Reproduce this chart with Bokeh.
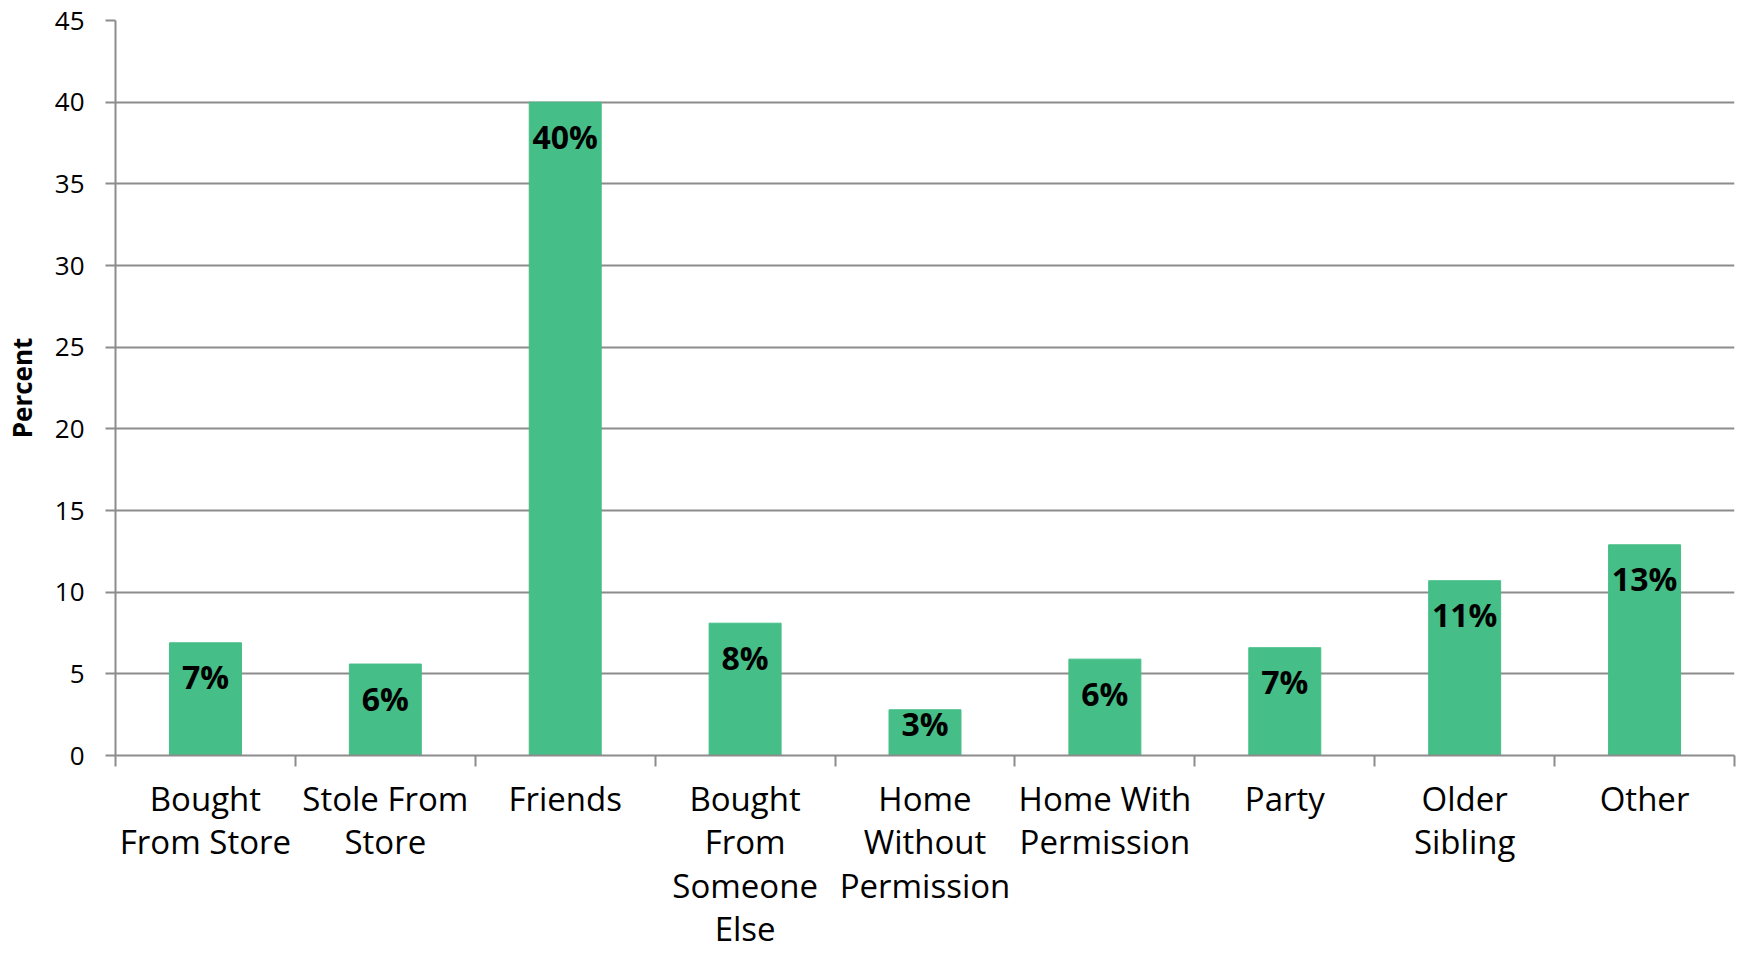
from bokeh.plotting import figure
from bokeh.models import ColumnDataSource, FixedTicker, LinearAxis, Range1d
from bokeh.core.properties import value
from bokeh.embed import file_html
from bokeh.resources import INLINE

categories = ["Bought\nFrom Store", "Stole From\nStore", "Friends", "Bought\nFrom\nSomeone\nElse",
              "Home\nWithout\nPermission", "Home With\nPermission", "Party", "Older\nSibling", "Other"]
percents = [6.9, 5.6, 40.0, 8.1, 2.8, 5.9, 6.6, 10.7, 12.9]
labels = ["7%", "6%", "40%", "8%", "3%", "6%", "7%", "11%", "13%"]
y_ticks = [0, 5, 10, 15, 20, 25, 30, 35, 40, 45]

GREEN = "#45BE87"
GRID = "#8c8c8c"
FONT = "Open Sans"

xs = [i + 0.5 for i in range(len(categories))]
offsets = [34 if v >= 4 else 14 for v in percents]
src = ColumnDataSource(dict(x=xs, top=percents, label=labels, off=offsets))

p = figure(width=1736, height=954, output_backend="svg", toolbar_location=None,
           x_range=Range1d(0, len(categories)), y_range=Range1d(0, 45),
           min_border_left=114, min_border_right=2, min_border_top=20, min_border_bottom=190,
           x_axis_location=None)
p.outline_line_color = None
p.background_fill_color = "white"
p.border_fill_color = "white"

p.vbar(x="x", top="top", bottom=0, width=0.4, source=src, fill_color=GREEN, line_color=GREEN)
p.text(x="x", y="top", text="label", y_offset="off", source=src,
       text_align="center", text_baseline="middle", text_font=value(FONT),
       text_font_style="bold", text_font_size="32px", text_color="black")

# y axis
yax = p.yaxis[0]
yax.ticker = FixedTicker(ticks=y_ticks)
yax.axis_label = "Percent"
yax.axis_label_text_font = FONT
yax.axis_label_text_font_style = "bold"
yax.axis_label_text_font_size = "26px"
yax.axis_label_text_color = "black"
yax.axis_label_standoff = 12
yax.major_label_text_font = FONT
yax.major_label_text_font_size = "26px"
yax.major_label_text_color = "black"
yax.major_label_standoff = 21
yax.axis_line_color = GRID
yax.axis_line_width = 2
yax.major_tick_line_color = GRID
yax.major_tick_line_width = 2
yax.major_tick_in = 0
yax.major_tick_out = 10
yax.minor_tick_line_color = None

p.ygrid.ticker = FixedTicker(ticks=y_ticks)
p.ygrid.grid_line_color = GRID
p.ygrid.grid_line_width = 2
p.xgrid.grid_line_color = None

# x axis: labels at bar centres, ticks at category boundaries
xax = LinearAxis(ticker=FixedTicker(ticks=xs, minor_ticks=list(range(len(categories) + 1))))
xax.major_label_overrides = {x: c for x, c in zip(xs, categories)}
xax.major_label_text_font = FONT
xax.major_label_text_font_size = "33px"
xax.major_label_text_line_height = 0.97
xax.major_label_text_color = "black"
xax.major_label_standoff = 9
xax.major_tick_line_color = None
xax.major_tick_in = 0
xax.major_tick_out = 0
xax.minor_tick_line_color = GRID
xax.minor_tick_line_width = 2
xax.minor_tick_in = 0
xax.minor_tick_out = 11
xax.axis_line_color = GRID
xax.axis_line_width = 2
p.add_layout(xax, "below")

open("out.html", "w").write(file_html(p, INLINE))
